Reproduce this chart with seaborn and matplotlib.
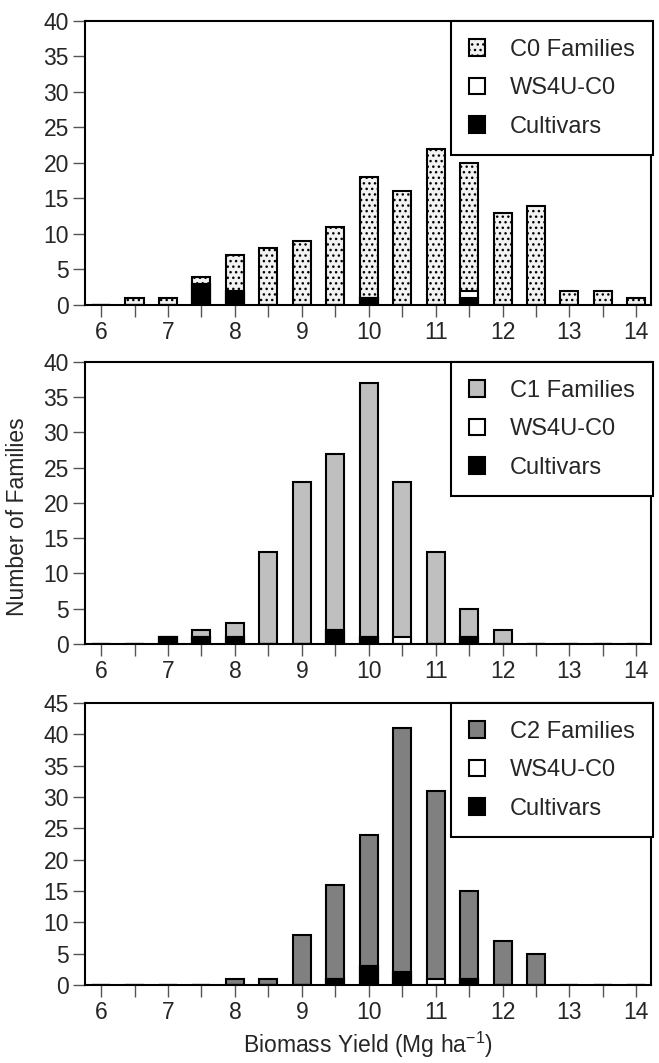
import matplotlib
matplotlib.use('Agg')
import matplotlib.pyplot as plt
import seaborn as sns
import pandas as pd
from matplotlib.patches import Patch
from matplotlib.ticker import MultipleLocator

sns.set_style('ticks')
plt.rcParams['font.family'] = ['Liberation Sans', 'DejaVu Sans']
plt.rcParams['mathtext.default'] = 'regular'
plt.rcParams['hatch.linewidth'] = 1.0

# biomass yield classes (Mg/ha)
yield_bins = [6.0, 6.5, 7.0, 7.5, 8.0, 8.5, 9.0, 9.5, 10.0, 10.5,
              11.0, 11.5, 12.0, 12.5, 13.0, 13.5, 14.0]

# C0 cycle
c0_total = [0, 1, 1, 4, 7, 8, 9, 11, 18, 16, 22, 20, 13, 14, 2, 2, 1]
c0_cultivars = [0, 0, 0, 3, 2, 0, 0, 0, 1, 0, 0, 1, 0, 0, 0, 0, 0]
c0_ws4u = [0, 0, 0, 0, 0, 0, 0, 0, 0, 0, 0, 1, 0, 0, 0, 0, 0]

# C1 cycle
c1_total = [0, 0, 1, 2, 3, 13, 23, 27, 37, 23, 13, 5, 2, 0, 0, 0, 0]
c1_cultivars = [0, 0, 1, 1, 1, 0, 0, 2, 1, 0, 0, 1, 0, 0, 0, 0, 0]
c1_ws4u = [0, 0, 0, 0, 0, 0, 0, 0, 0, 1, 0, 0, 0, 0, 0, 0, 0]

# C2 cycle
c2_total = [0, 0, 0, 0, 1, 1, 8, 16, 24, 41, 31, 15, 7, 5, 0, 0, 0]
c2_cultivars = [0, 0, 0, 0, 0, 0, 0, 1, 3, 2, 0, 1, 0, 0, 0, 0, 0]
c2_ws4u = [0, 0, 0, 0, 0, 0, 0, 0, 0, 0, 1, 0, 0, 0, 0, 0, 0]

x_labels = ['6', '7', '8', '9', '10', '11', '12', '13', '14']

panels = [
    ('C0 Families', c0_total, c0_cultivars, c0_ws4u, '#f2f2f2', '...', 40, 0.7131, 0.2672),
    ('C1 Families', c1_total, c1_cultivars, c1_ws4u, '#bfbfbf', None, 40, 0.3942, 0.2653),
    ('C2 Families', c2_total, c2_cultivars, c2_ws4u, '#808080', None, 45, 0.0734, 0.2653),
]

fig = plt.figure(figsize=(6.59, 10.63), dpi=100)

for name, total, cult, ws4u, color, hatch, ymax, bottom, height in panels:
    ax = fig.add_axes([0.129, bottom, 0.859, height])
    df = pd.DataFrame({'yield': yield_bins, 'total': total,
                       'low': [c + w for c, w in zip(cult, ws4u)], 'cult': cult})

    # families (full height), then WS4U-C0 and cultivars stacked at the bottom
    bar_kw = dict(x='yield', native_scale=True, width=0.54, saturation=1,
                  edgecolor='black', linewidth=1.5, errorbar=None, ax=ax)
    sns.barplot(data=df, y='total', color=color, hatch=hatch, **bar_kw)
    sns.barplot(data=df, y='low', color='white', **bar_kw)
    sns.barplot(data=df, y='cult', color='black', **bar_kw)

    ax.set_xlim(5.76, 14.22)
    ax.set_ylim(0, ymax)
    ax.xaxis.set_minor_locator(MultipleLocator(0.5))
    ax.set_xticks([int(v) for v in x_labels])
    ax.set_xticklabels(x_labels)
    ax.yaxis.set_major_locator(MultipleLocator(5))
    ax.set_xlabel('')
    ax.set_ylabel('')
    ax.tick_params(which='both', direction='out', length=8.5, width=1,
                   color='#555555', labelsize=16.5, pad=3)
    for sp in ax.spines.values():
        sp.set_linewidth(1.5)
        sp.set_color('black')

    handles = [Patch(facecolor=color, edgecolor='black', hatch=hatch, linewidth=1.5, label=name),
               Patch(facecolor='white', edgecolor='black', linewidth=1.5, label='WS4U-C0'),
               Patch(facecolor='black', edgecolor='black', linewidth=1.5, label='Cultivars')]
    leg = ax.legend(handles=handles, loc='upper right', bbox_to_anchor=(1.003, 1.0),
                    borderaxespad=0, fontsize=17, handlelength=0.7, handleheight=0.7,
                    labelspacing=0.7, handletextpad=1.05, borderpad=0.75,
                    fancybox=False, framealpha=1)
    leg.get_frame().set_edgecolor('black')
    leg.get_frame().set_linewidth(1.5)

fig.text(0.026, 0.5136, 'Number of Families', rotation=90, ha='center', va='center', fontsize=16.5)
fig.text(0.558, 0.017, 'Biomass Yield (Mg ha$^{-1}$)', ha='center', va='center', fontsize=16.5)

fig.savefig('out.png', dpi=100)
